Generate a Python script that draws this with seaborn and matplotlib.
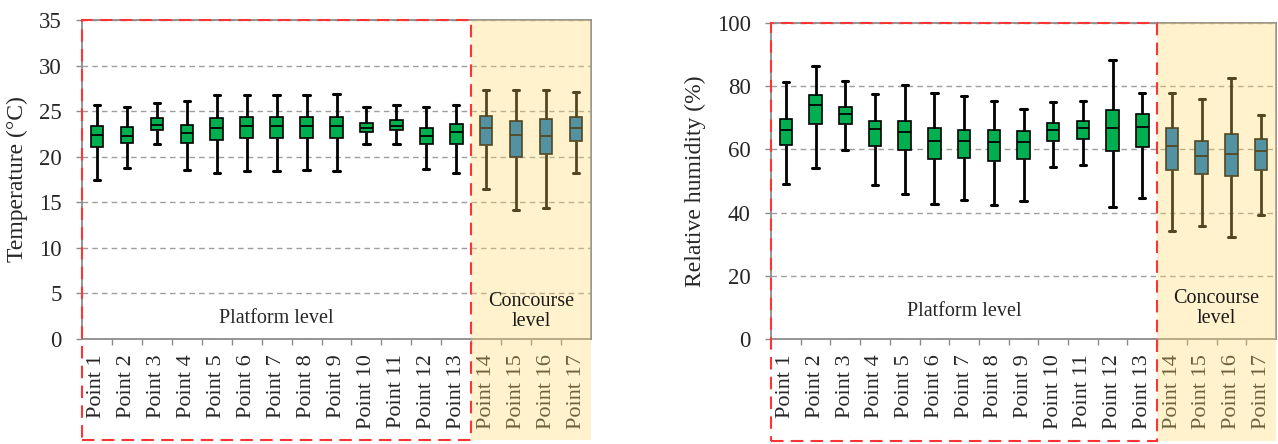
import numpy as np
import pandas as pd
import matplotlib
matplotlib.use("Agg")
import matplotlib.pyplot as plt
import matplotlib.transforms as mtransforms
from matplotlib.patches import Rectangle
from matplotlib.ticker import FixedLocator
import seaborn as sns

# Measurement points
points = [f"Point {i}" for i in range(1, 18)]
levels = ["Platform"] * 13 + ["Concourse"] * 4

# Air temperature (°C): min, lower quartile, median, upper quartile, max
temp_min = [17.4, 18.8, 21.4, 18.5, 18.2, 18.4, 18.4, 18.5, 18.4, 21.4, 21.4, 18.7, 18.2,
            16.5, 14.2, 14.4, 18.2]
temp_q1 = [21.1, 21.5, 22.9, 21.5, 21.8, 22.1, 22.1, 22.1, 22.1, 22.7, 22.9, 21.4, 21.4,
           21.3, 20.0, 20.3, 21.7]
temp_med = [22.4, 22.3, 23.5, 22.6, 23.2, 23.4, 23.4, 23.4, 23.4, 23.1, 23.4, 22.3, 22.7,
            23.2, 22.4, 22.3, 23.2]
temp_q3 = [23.4, 23.3, 24.2, 23.5, 24.2, 24.4, 24.4, 24.4, 24.4, 23.7, 24.0, 23.2, 23.6,
           24.5, 23.9, 24.1, 24.4]
temp_max = [25.7, 25.4, 25.9, 26.1, 26.8, 26.8, 26.8, 26.8, 26.9, 25.4, 25.7, 25.4, 25.7,
            27.3, 27.3, 27.3, 27.1]

# Relative humidity (%): min, lower quartile, median, upper quartile, max
rh_min = [49.1, 54.0, 59.9, 48.7, 45.8, 42.8, 43.9, 42.5, 43.6, 54.3, 55.2, 41.8, 44.6,
          34.3, 35.9, 32.2, 39.3]
rh_q1 = [61.5, 68.1, 68.1, 61.0, 59.7, 56.9, 57.2, 56.4, 56.9, 62.7, 63.4, 59.4, 60.9,
         53.6, 52.2, 51.7, 53.6]
rh_med = [66.1, 74.2, 71.2, 66.3, 65.6, 62.7, 62.7, 62.3, 62.3, 66.1, 66.8, 66.8, 67.0,
          61.0, 57.8, 58.6, 59.5]
rh_q3 = [69.6, 77.2, 73.5, 69.1, 69.1, 66.7, 66.2, 66.2, 65.8, 68.2, 68.9, 72.4, 71.3,
         66.7, 62.7, 64.8, 63.4]
rh_max = [81.2, 86.5, 81.8, 77.4, 80.3, 77.8, 76.8, 75.4, 72.8, 74.9, 75.4, 88.2, 77.7,
          77.7, 75.9, 82.6, 70.9]


def long_form(*stats):
    """Five-number summaries -> long table (min..max whiskers reproduce them exactly)."""
    rows = []
    for i, p in enumerate(points):
        for s in stats:
            rows.append({"point": p, "level": levels[i], "value": s[i]})
    return pd.DataFrame(rows)


temp_df = long_form(temp_min, temp_q1, temp_med, temp_q3, temp_max)
rh_df = long_form(rh_min, rh_q1, rh_med, rh_q3, rh_max)

sns.set_style("white")
plt.rcParams["font.family"] = ["Liberation Serif", "DejaVu Serif"]
plt.rcParams["axes.unicode_minus"] = False

GREEN = "#00B050"
BLUE = "#0070C0"
GRAY = "#8C8C8C"
GRID = "#9E9E9E"
RED = "#FF3333"
OVERLAY = (1.0, 0.85, 0.40)

fig = plt.figure(figsize=(12.78, 4.44), dpi=100)
ax1 = fig.add_axes([82 / 1278, 105 / 444, 509 / 1278, 319 / 444])
ax2 = fig.add_axes([771 / 1278, 105 / 444, 505 / 1278, 316 / 444])

palette = {"Platform": GREEN, "Concourse": BLUE}


def draw(ax, df, ylim, step, ylabel, label_x, platform_y, concourse_y, bottom):
    sns.boxplot(data=df, x="point", y="value", hue="level", palette=palette,
                order=points, hue_order=["Platform", "Concourse"], dodge=False,
                saturation=1, whis=(0, 100), width=0.42, linecolor="black",
                linewidth=1.2, whiskerprops={"linewidth": 2.0},
                capprops={"linewidth": 2.2}, medianprops={"linewidth": 1.3},
                legend=False, ax=ax, zorder=3)
    ax.set_xlim(-0.5, len(points) - 0.5)
    ax.set_ylim(*ylim)
    ax.set_yticks(np.arange(ylim[0], ylim[1] + 0.01, step))
    ax.yaxis.grid(True, linestyle=(0, (4, 3)), color=GRID, linewidth=1.0, zorder=0)
    ax.xaxis.grid(False)
    ax.set_axisbelow(True)
    for sp in ax.spines.values():
        sp.set_visible(True)
        sp.set_color(GRAY)
        sp.set_linewidth(1.3)
    ax.set_xlabel("")
    ax.set_ylabel(ylabel, fontsize=17)
    ax.yaxis.set_label_coords(label_x, 0.5)
    ax.tick_params(axis="y", which="major", length=4.5, width=1.0, color=GRAY,
                   direction="out", pad=10, labelsize=16.5, left=True)
    ax.set_xticks(range(len(points)))
    ax.set_xticklabels(points, rotation=90, va="top", ha="center")
    ax.tick_params(axis="x", which="major", length=0, pad=11, labelsize=16, bottom=True)
    ax.xaxis.set_minor_locator(FixedLocator(np.arange(0.5, len(points) - 1, 1)))
    ax.tick_params(axis="x", which="minor", length=4, width=1.0, color=GRAY,
                   direction="out", bottom=True)

    ax.text(6, platform_y, "Platform level", ha="center", va="center", fontsize=14.5,
            zorder=6)
    ax.text(14.5, concourse_y, "Concourse\nlevel", ha="center", va="center",
            fontsize=14.5, linespacing=1.05, color="#1a1a1a", zorder=12)

    trans = mtransforms.blended_transform_factory(ax.transData, ax.transAxes)
    ax.add_patch(Rectangle((12.5, bottom), 4.0, 1 - bottom, transform=trans,
                           facecolor=OVERLAY, alpha=0.33, edgecolor="none",
                           clip_on=False, zorder=10))
    ax.add_patch(Rectangle((-0.5, bottom), 13.0, 1 - bottom, transform=trans,
                           facecolor="none", edgecolor=RED, linewidth=1.5,
                           linestyle=(0, (6, 3.5)), clip_on=False, zorder=11))


draw(ax1, temp_df, (0, 35), 5, "Temperature (°C)", -0.106, 2.2, 3.0, -0.318)
draw(ax2, rh_df, (0, 100), 20, "Relative humidity (%)", -0.128, 8.6, 9.6, -0.322)

fig.savefig("out.png", dpi=100)
